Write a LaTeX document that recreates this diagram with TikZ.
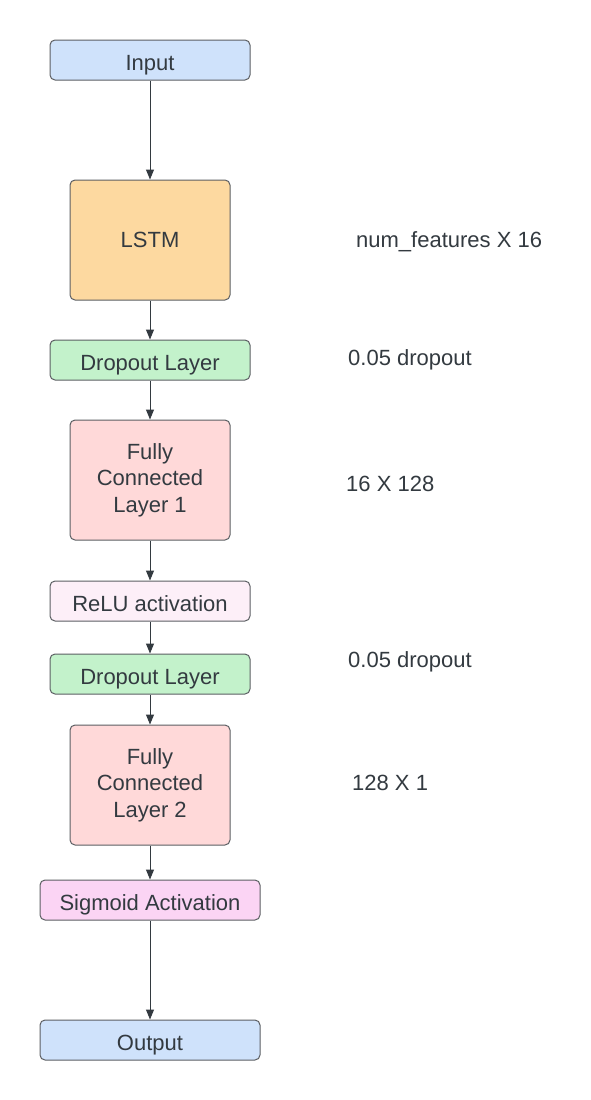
\documentclass[tikz,border=0pt]{standalone}
\usepackage{fontspec}
\setmainfont{Liberation Sans}
\usetikzlibrary{arrows.meta}
\definecolor{txt}{HTML}{333A40}
\definecolor{edge}{HTML}{5C5F63}
\definecolor{cblue}{HTML}{CFE2FB}
\definecolor{corange}{HTML}{FDD9A0}
\definecolor{cgreen}{HTML}{C3F2CB}
\definecolor{cred}{HTML}{FFD9D9}
\definecolor{cpale}{HTML}{FDEFF8}
\definecolor{cpink}{HTML}{FBD4F4}
\begin{document}
\begin{tikzpicture}[x=1pt,y=-1pt,
  font=\fontsize{22}{26.5}\selectfont,
  box/.style={draw=edge, line width=1pt, rounded corners=5pt, text=txt, align=center, inner sep=0pt},
  small/.style={box, minimum height=40pt, text height=21pt, text depth=0pt},
  big/.style={box, minimum width=160pt, minimum height=120pt},
  lab/.style={text=txt, anchor=base west, inner sep=0pt},
  conn/.style={draw=txt, line width=1pt, -{Triangle[length=10pt,width=8pt]}}]
\useasboundingbox (0,0) rectangle (590,1100);
\fill[white] (0,0) rectangle (590,1100);
\node[small, fill=cblue, minimum width=200pt] (in) at (150,60) {Input};
\node[big, fill=corange] (lstm) at (150,240) {LSTM};
\node[small, fill=cgreen, minimum width=200pt] (d1) at (150,360) {Dropout Layer};
\node[big, fill=cred] (fc1) at (150,480) {Fully\\Connected\\Layer 1};
\node[small, fill=cpale, minimum width=200pt] (relu) at (150,601) {ReLU activation};
\node[small, fill=cgreen, minimum width=200pt] (d2) at (150,674) {Dropout Layer};
\node[big, fill=cred] (fc2) at (150,785) {Fully\\Connected\\Layer 2};
\node[small, fill=cpink, minimum width=220pt] (sig) at (150,900) {Sigmoid Activation};
\node[small, fill=cblue, minimum width=220pt] (out) at (150,1040) {Output};
\draw[conn] (in) -- (lstm);
\draw[conn] (lstm) -- (d1);
\draw[conn] (d1) -- (fc1);
\draw[conn] (fc1) -- (relu);
\draw[conn] (relu) -- (d2);
\draw[conn] (d2) -- (fc2);
\draw[conn] (fc2) -- (sig);
\draw[conn] (sig) -- (out);
\node[lab] (l1) at (356,247) {num\_features X 16};
\node[lab] (l2) at (348,365) {0.05 dropout};
\node[lab] (l3) at (346,491) {16 X 128};
\node[lab] (l4) at (348,667.5) {0.05 dropout};
\node[lab] (l5) at (352,790) {128 X 1};
\end{tikzpicture}
\end{document}
